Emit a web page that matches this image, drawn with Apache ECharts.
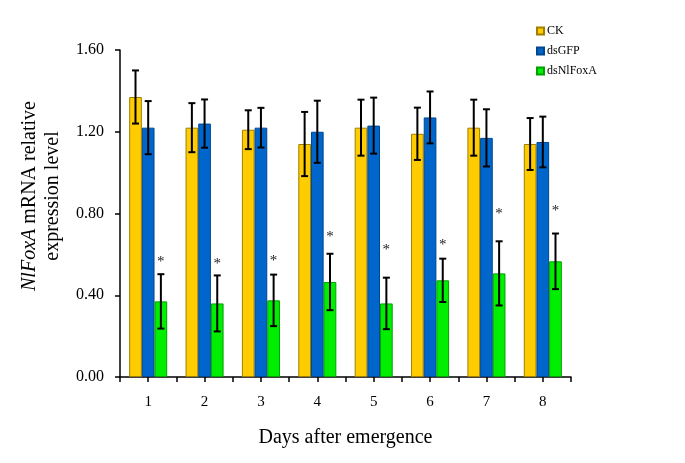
<!DOCTYPE html>
<html>
<head>
<meta charset="utf-8">
<script src="https://cdn.jsdelivr.net/npm/echarts@6/dist/echarts.min.js"></script>
<style>
html,body{margin:0;padding:0;background:#fff;}
#chart{width:685px;height:463px;}
</style>
</head>
<body>
<div id="chart"></div>
<script>
// ---- data ----
var categories = ['1', '2', '3', '4', '5', '6', '7', '8'];
var seriesNames = ['CK', 'dsGFP', 'dsNlFoxA'];
var ckValues = [1.37, 1.22, 1.21, 1.14, 1.22, 1.19, 1.22, 1.14];
var ckErrors = [0.13, 0.12, 0.095, 0.157, 0.137, 0.128, 0.137, 0.127];
var dsGFPValues = [1.22, 1.24, 1.22, 1.20, 1.23, 1.27, 1.17, 1.15];
var dsGFPErrors = [0.13, 0.118, 0.097, 0.152, 0.137, 0.127, 0.14, 0.124];
var dsNlFoxAValues = [0.37, 0.36, 0.375, 0.465, 0.36, 0.473, 0.507, 0.566];
var dsNlFoxAErrors = [0.133, 0.137, 0.126, 0.138, 0.126, 0.106, 0.157, 0.136];
var starLevels = [0.582, 0.572, 0.586, 0.703, 0.642, 0.665, 0.817, 0.830];
var yTicks = [0, 0.4, 0.8, 1.2, 1.6];

var BAR_RATIO = 0.225;
var serif = '"Liberation Serif", "Times New Roman", serif';

var chart = echarts.init(document.getElementById('chart'), null, {renderer: 'canvas'});

function errSeries(idx, vals, errs, stars) {
  return {
    type: 'custom',
    name: seriesNames[idx] + '_err',
    xAxisIndex: 0,
    yAxisIndex: 0,
    z: 10,
    silent: true,
    data: vals.map(function (v, i) { return [i, v, errs[i], stars ? stars[i] : -1]; }),
    renderItem: function (params, api) {
      var i = api.value(0), v = api.value(1), e = api.value(2), s = api.value(3);
      var band = api.size([1, 0])[0];
      var bw = band * BAR_RATIO;
      var x = api.coord([i, 0])[0] + (idx - 1) * bw;
      var top = api.coord([i, v + e])[1];
      var bot = api.coord([i, v - e])[1];
      var cap = 3.5;
      var st = {stroke: '#000', lineWidth: 2};
      var children = [
        {type: 'line', shape: {x1: x, y1: top, x2: x, y2: bot}, style: st},
        {type: 'line', shape: {x1: x - cap, y1: top, x2: x + cap, y2: top}, style: st},
        {type: 'line', shape: {x1: x - cap, y1: bot, x2: x + cap, y2: bot}, style: st}
      ];
      if (s > 0) {
        var sy = api.coord([i, s])[1];
        children.push({type: 'text', style: {text: '*', x: x, y: sy + 4, align: 'center', verticalAlign: 'middle', font: '15px ' + serif, fill: '#222'}});
      }
      return {type: 'group', children: children};
    }
  };
}

var colors = ['#FFCC00', '#0066CC', '#00EE00'];
var borders = ['#A07E00', '#00468C', '#00A000'];
var valsList = [ckValues, dsGFPValues, dsNlFoxAValues];

var barSeries = valsList.map(function (vals, k) {
  return {
    type: 'bar',
    name: seriesNames[k],
    xAxisIndex: 0,
    yAxisIndex: 0,
    data: vals,
    barWidth: (BAR_RATIO * 100) + '%',
    barGap: '0%',
    itemStyle: {color: colors[k], borderColor: borders[k], borderWidth: 1},
    emphasis: {disabled: true}
  };
});

var option = {
  animation: false,
  backgroundColor: '#fff',
  textStyle: {fontFamily: serif},
  grid: {left: 120, right: 114, top: 50, bottom: 86, containLabel: false},
  legend: {
    orient: 'vertical',
    left: 531,
    top: 20,
    itemWidth: 7,
    itemHeight: 7,
    itemGap: 8,
    icon: 'rect',
    data: seriesNames,
    textStyle: {fontFamily: serif, fontSize: 12, color: '#000', padding: [0, 0, 0, -2]}
  },
  xAxis: [
    {
      type: 'category',
      data: categories,
      axisLine: {lineStyle: {color: '#000', width: 1.5}},
      axisTick: {show: true, length: 5, lineStyle: {color: '#000', width: 1.5}},
      axisLabel: {color: '#000', fontFamily: serif, fontSize: 15, margin: 18},
      name: 'Days after emergence',
      nameLocation: 'middle',
      nameGap: 51,
      nameTextStyle: {fontFamily: serif, fontSize: 20, color: '#000'}
    },
    {
      type: 'category',
      data: categories,
      position: 'bottom',
      axisLine: {show: false},
      axisTick: {show: true, alignWithLabel: true, length: 5, lineStyle: {color: '#000', width: 1.5}},
      axisLabel: {show: false}
    }
  ],
  yAxis: {
    type: 'value',
    min: 0,
    max: 1.6,
    interval: 0.4,
    axisLine: {show: true, lineStyle: {color: '#000', width: 1.5}},
    axisTick: {show: true, length: 5, lineStyle: {color: '#000', width: 1.5}},
    splitLine: {show: false},
    axisLabel: {color: '#000', fontFamily: serif, fontSize: 16, margin: 16,
      formatter: function (v) { return v.toFixed(2); }}
  },
  graphic: [{
    type: 'text',
    x: 41,
    y: 196,
    rotation: Math.PI / 2,
    style: {
      text: '{i|NlFoxA} mRNA relative\nexpression level',
      font: '20px ' + serif,
      fill: '#000',
      align: 'center',
      verticalAlign: 'middle',
      lineHeight: 23,
      rich: {i: {fontStyle: 'italic', fontFamily: serif, fontSize: 20, fill: '#000', lineHeight: 23}}
    }
  }],
  series: barSeries.concat([
    errSeries(0, ckValues, ckErrors, null),
    errSeries(1, dsGFPValues, dsGFPErrors, null),
    errSeries(2, dsNlFoxAValues, dsNlFoxAErrors, starLevels)
  ])
};

chart.setOption(option);
</script>
</body>
</html>
